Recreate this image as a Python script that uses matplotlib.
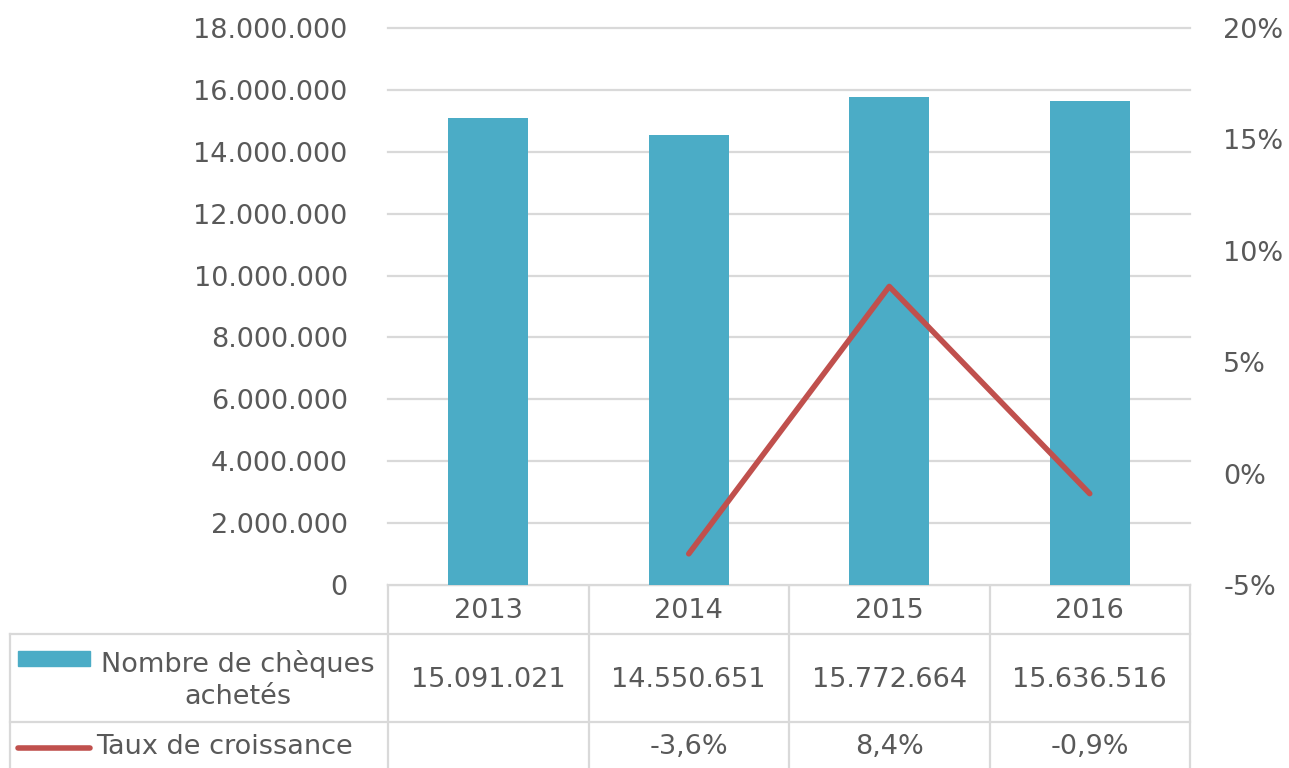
import numpy as np
import matplotlib
matplotlib.use("Agg")
import matplotlib.pyplot as plt
from matplotlib.ticker import FuncFormatter

# -----------------------------
# Data
# -----------------------------
years = ["2013", "2014", "2015", "2016"]
cheques = [15091021, 14550651, 15772664, 15636516]
growth = [None, -3.6, 8.4, -0.9]

series_bar = "Nombre de chèques\nachetés"
series_line = "Taux de croissance"

BLUE = "#4BACC6"
RED = "#C0504D"
GRID = "#D9D9D9"
TXT = "#595959"
FS = 19.5

W, H = 1289, 768
fig = plt.figure(figsize=(W / 100, H / 100), dpi=100)
plt.rcParams['font.family'] = ['DejaVu Sans']

# plot area in pixels
x0, x1, y0, y1 = 388, 1190, 28, 585
ax = fig.add_axes([x0 / W, 1 - y1 / H, (x1 - x0) / W, (y1 - y0) / H])
ax2 = ax.twinx()

x = np.arange(len(years))
ax.bar(x, cheques, width=0.4, color=BLUE, zorder=3)
ax.set_xlim(-0.5, len(years) - 0.5)
ax.set_ylim(0, 18000000)
ax.set_yticks(np.arange(0, 18000001, 2000000))
ax.yaxis.set_major_formatter(FuncFormatter(lambda v, p: f"{int(v):,}".replace(",", ".")))
ax.grid(axis="y", color=GRID, linewidth=1.6, zorder=0)
for gl in ax.get_ygridlines():
    gl.set_clip_on(False)
ax.set_xticks([])

gx = [i for i, g in enumerate(growth) if g is not None]
gy = [g for g in growth if g is not None]
ax2.plot(gx, gy, color=RED, linewidth=4, solid_capstyle="round", zorder=4)
ax2.set_ylim(-5, 20)
ax2.set_yticks(np.arange(-5, 21, 5))
ax2.yaxis.set_major_formatter(FuncFormatter(lambda v, p: f"{int(v)}%"))

for a in (ax, ax2):
    for s in a.spines.values():
        s.set_visible(False)
    a.tick_params(length=0, labelsize=FS, colors=TXT)
ax.tick_params(axis="y", pad=29)
ax2.tick_params(axis="y", pad=24)

# -----------------------------
# Data table (pixel coordinates)
# -----------------------------
tab = fig.add_axes([0, 0, 1, 1], zorder=-1)
tab.set_xlim(0, W)
tab.set_ylim(H, 0)
tab.axis("off")

col_edges = np.linspace(x0, x1, len(years) + 1)
r0, r1, r2, r3 = 585, 634, 722, 768
lw = 1.6
tab.plot([x0, x1], [r0, r0], color=GRID, lw=lw)
tab.plot([10, x1], [r1, r1], color=GRID, lw=lw)
tab.plot([10, x1], [r2, r2], color=GRID, lw=lw)
tab.plot([10, 10], [r1, r3], color=GRID, lw=lw)
for ce in col_edges:
    tab.plot([ce, ce], [r0, r3], color=GRID, lw=lw)

centers = (col_edges[:-1] + col_edges[1:]) / 2
for i, yr in enumerate(years):
    tab.text(centers[i], (r0 + r1) / 2 + 2, yr, ha="center", va="center", fontsize=FS, color=TXT)
    tab.text(centers[i], (r1 + r2) / 2 + 2, f"{cheques[i]:,}".replace(",", "."),
             ha="center", va="center", fontsize=FS, color=TXT)
    if growth[i] is not None:
        tab.text(centers[i], (r2 + r3) / 2 + 2, f"{growth[i]:.1f}%".replace(".", ","),
                 ha="center", va="center", fontsize=FS, color=TXT)

# legend keys
tab.add_patch(plt.Rectangle((18, 651), 72, 15, color=BLUE))
tab.text(238, (r1 + r2) / 2 + 2, series_bar, ha="center", va="center", fontsize=FS,
         color=TXT, linespacing=1.3)
tab.plot([18, 90], [748, 748], color=RED, lw=4, solid_capstyle="round")
tab.text(96, (r2 + r3) / 2 + 2, series_line, ha="left", va="center", fontsize=FS, color=TXT)

fig.savefig("out.png", dpi=100, facecolor="white")
